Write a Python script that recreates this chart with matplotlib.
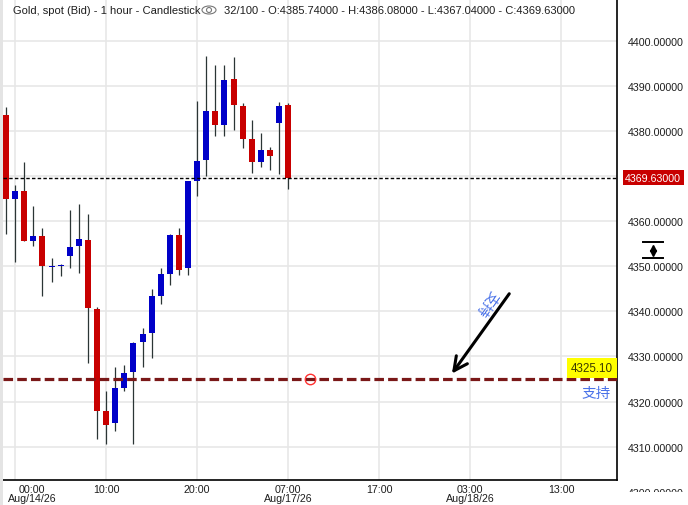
import matplotlib
matplotlib.use('Agg')
import matplotlib.pyplot as plt
import matplotlib.transforms as mtransforms
from matplotlib.patches import Ellipse, Rectangle
from matplotlib.lines import Line2D
import numpy as np

plt.rcParams['font.family'] = ['Liberation Sans', 'Noto Sans CJK SC', 'DejaVu Sans']

# hourly candles, Aug/13 23:00 .. Aug/17 07:00 (index = bar number)
opens  = [4383.6, 4364.8, 4366.75, 4355.7, 4356.8, 4349.9, 4350.1, 4352.2, 4354.4, 4355.9,
          4340.6, 4317.8, 4315.2, 4323.1, 4326.5, 4333.1, 4335.1, 4343.5, 4348.35, 4357.0,
          4349.5, 4369.0, 4373.5, 4384.5, 4381.2, 4391.6, 4385.6, 4378.1, 4373.2, 4375.8,
          4381.7, 4385.74]
highs  = [4385.4, 4368.1, 4373.2, 4363.4, 4358.5, 4351.9, 4350.4, 4362.5, 4363.9, 4361.6,
          4341.0, 4322.4, 4327.7, 4328.0, 4333.1, 4336.2, 4345.0, 4349.5, 4357.2, 4358.5,
          4369.0, 4386.7, 4396.7, 4394.5, 4394.5, 4396.45, 4386.25, 4382.5, 4379.6, 4376.5,
          4386.5, 4386.08]
lows   = [4357.2, 4350.9, 4355.5, 4354.4, 4343.3, 4346.6, 4347.8, 4349.5, 4348.6, 4328.5,
          4311.8, 4310.7, 4313.4, 4322.3, 4310.7, 4327.6, 4329.6, 4341.7, 4345.9, 4348.0,
          4348.1, 4365.5, 4370.1, 4378.8, 4378.8, 4380.1, 4376.1, 4370.6, 4371.9, 4371.25,
          4370.4, 4367.04]
closes = [4364.8, 4366.75, 4355.7, 4356.8, 4349.97, 4350.1, 4350.3, 4354.3, 4356.1, 4340.65,
          4317.8, 4314.9, 4323.1, 4326.4, 4333.05, 4335.05, 4343.5, 4348.35, 4357.0, 4349.1,
          4369.0, 4373.4, 4384.5, 4381.2, 4391.35, 4385.7, 4378.1, 4373.2, 4375.8, 4374.35,
          4385.6, 4369.63]

x_tick_pos = [1, 11, 21, 31, 41, 51, 61]
x_tick_labels = ['00:00\nAug/14/26', '10:00', '20:00', '07:00\nAug/17/26', '17:00',
                 '03:00\nAug/18/26', '13:00']
y_ticks = [4310, 4320, 4330, 4340, 4350, 4360, 4370, 4380, 4390, 4400]

support = 4325.10
support_marker_x = 33.4
arrow_start = (55.3, 4343.9)
arrow_end = (49.0, 4326.2)
arrow_text_pos = (52.9, 4341.9)
support_text_pos = (64.8, 4321.9)

RED = '#c80000'
BLUE = '#0000c8'
WICK = '#2b3535'
GRID = '#e6e6e6'
TXT = '#1e1e1e'

W, H = 688, 506
fig = plt.figure(figsize=(W / 100, H / 100), dpi=100)
fig.patch.set_facecolor('white')
ax = fig.add_axes([3 / W, 25 / H, 614 / W, 481 / H])

idx = np.arange(len(opens))
o = np.array(opens); c = np.array(closes)
hi = np.array(highs); lo = np.array(lows)
up = c >= o
colors = np.where(up, BLUE, RED)
bottoms = np.minimum(o, c)
heights = np.maximum(np.abs(c - o), 0.25)

ax.vlines(idx, lo, hi, color=WICK, lw=0.9, zorder=2)
ax.bar(idx, heights, bottom=bottoms, width=0.66, color=colors, lw=0, zorder=3)

ax.set_xlim(-0.33, 67.14)
ax.set_ylim(4302.61, 4409.24)

# grid
ax.set_xticks(x_tick_pos)
ax.set_xticklabels([])
ax.set_yticks(y_ticks)
ax.grid(True, color=GRID, lw=1.1, zorder=0)
ax.set_axisbelow(True)
ax.tick_params(axis='x', length=0)
ax.yaxis.tick_right()
ax.tick_params(axis='y', length=0, pad=7.9, labelsize=7.7, labelcolor=TXT)
# the 4370 label is covered by the last-price tag
ax.set_yticklabels(['' if v == 4370 else f'{v:.5f}' for v in y_ticks])

for s in ['left', 'top']:
    ax.spines[s].set_visible(False)
for s in ['right', 'bottom']:
    ax.spines[s].set_color('black')
    ax.spines[s].set_linewidth(1.2)

# x labels
trans = mtransforms.blended_transform_factory(ax.transData, ax.transAxes)
for i, (pos, lab) in enumerate(zip(x_tick_pos, x_tick_labels)):
    if i == 0:
        ax.text(0.0075, -0.0075, lab, transform=ax.transAxes, ha='left', va='top',
                multialignment='center', fontsize=7.7, color=TXT, linespacing=0.95)
    else:
        ax.text(pos, -0.0075, lab, transform=trans, ha='center', va='top',
                multialignment='center', fontsize=7.7, color=TXT, linespacing=0.95)

# current price line + label
ax.axhline(closes[-1], color='black', lw=1.0, dashes=(2.5, 1.6), zorder=4)
ytrans = mtransforms.blended_transform_factory(ax.transAxes, ax.transData)
ax.text(1.0135, closes[-1], f'{closes[-1]:.5f}', transform=ytrans, ha='left', va='center',
        fontsize=7.7, color='white', clip_on=False,
        bbox=dict(boxstyle='square,pad=0.22', fc=RED, ec='none'))

# support line
ax.axhline(support, color='#7a1818', lw=2.3, dashes=(3.0, 1.3), zorder=4)
ax.plot([support_marker_x], [support], 'o', mfc='none', mec='#ff3030', ms=7.5, mew=1.0, zorder=5)
ax.text(0.9935, support + 1.0, f'{support:.2f}', transform=ytrans, ha='right', va='bottom',
        fontsize=8.4, color='#3a3a00', clip_on=False, zorder=6,
        bbox=dict(boxstyle='square,pad=0.32', fc='#ffff00', ec='none'))
ax.text(support_text_pos[0], support_text_pos[1], '支持', ha='center', va='center',
        fontsize=10.5, color='#4a72e8', family=['Noto Sans CJK SC', 'DejaVu Sans'], zorder=6)

# arrow with rotated label
ax.annotate('', xy=arrow_end, xytext=arrow_start, zorder=6,
            arrowprops=dict(arrowstyle='->,head_length=0.7,head_width=0.35', lw=2.2,
                            color='black', mutation_scale=14, shrinkA=0, shrinkB=0))
ax.text(arrow_text_pos[0], arrow_text_pos[1], '支持', ha='center', va='center',
        rotation=234.5, rotation_mode='anchor', fontsize=10, color='#4a72e8',
        family=['Noto Sans CJK SC', 'DejaVu Sans'], zorder=6)

# title line
def fx(px):
    return px / W
def fy(py):
    return 1 - py / H

fig.text(fx(13), fy(11), 'Gold, spot (Bid) - 1 hour - Candlestick', fontsize=8,
         color=TXT, va='center', ha='left')
fig.add_artist(Ellipse((fx(209), fy(11)), 14 / W, 8 / H, fc='none', ec='#777777', lw=0.8,
                       transform=fig.transFigure))
fig.add_artist(Ellipse((fx(209), fy(11)), 5 / W, 5 / H, fc='none', ec='#777777', lw=0.8,
                       transform=fig.transFigure))
fig.text(fx(224), fy(11),
         f'{len(opens)}/100 - O:{opens[-1]:.5f} - H:{highs[-1]:.5f} - '
         f'L:{lows[-1]:.5f} - C:{closes[-1]:.5f}',
         fontsize=8, color=TXT, va='center', ha='left')

# left grey strip
fig.add_artist(Rectangle((0, 0), 3 / W, 1, fc='#e4e4e4', ec='none', transform=fig.transFigure))

# scale icon on price axis
fig.add_artist(Line2D([fx(643), fx(663)], [fy(243), fy(243)], color='black', lw=1.4,
                      transform=fig.transFigure))
fig.add_artist(Line2D([fx(643), fx(663)], [fy(259), fy(259)], color='black', lw=1.4,
                      transform=fig.transFigure))
fig.add_artist(Line2D([fx(653)], [fy(248.5)], marker='^', ms=4.5, color='black', lw=0,
                      transform=fig.transFigure))
fig.add_artist(Line2D([fx(653)], [fy(253.5)], marker='v', ms=4.5, color='black', lw=0,
                      transform=fig.transFigure))

# clipped 4300 label at bottom
t = fig.text(fx(628), fy(494), '4300.00000', fontsize=7.7, color=TXT,
             va='center', ha='left')
t.set_clip_box(mtransforms.Bbox.from_extents(600, H - 492.5, W, H))
t.set_clip_on(True)

fig.savefig('out.png', dpi=100)
